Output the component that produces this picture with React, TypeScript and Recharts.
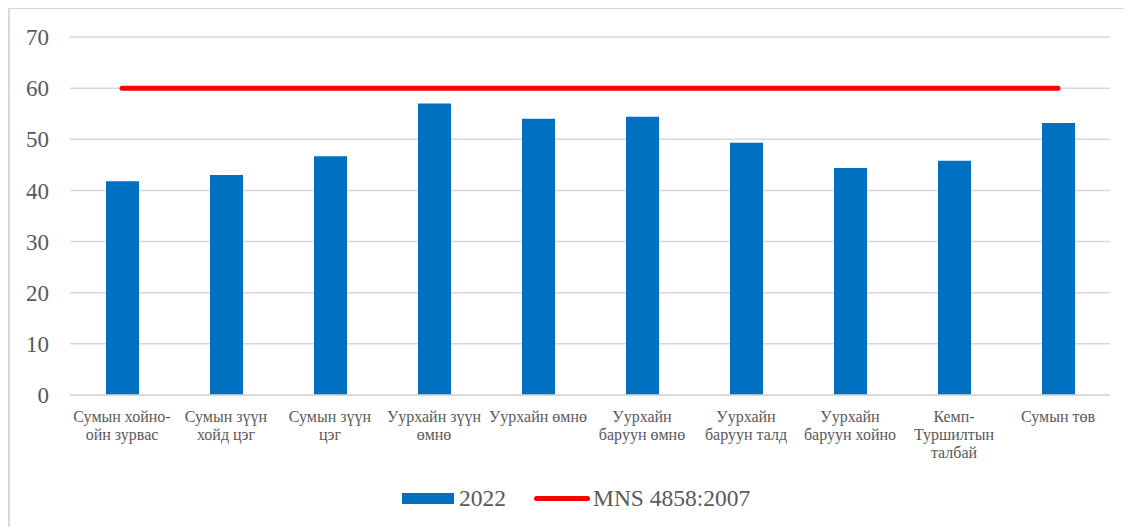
import React from "react";
import {
  ComposedChart,
  Bar,
  Line,
  XAxis,
  YAxis,
  CartesianGrid,
  Legend,
} from "recharts";

const categories = [
  "Сумын хойно-ойн зурвас",
  "Сумын зүүн хойд цэг",
  "Сумын зүүн цэг",
  "Уурхайн зүүн өмнө",
  "Уурхайн өмнө",
  "Уурхайн баруун өмнө",
  "Уурхайн баруун талд",
  "Уурхайн баруун хойно",
  "Кемп-Туршилтын талбай",
  "Сумын төв",
];

const tickLines: string[][] = [
  ["Сумын хойно-", "ойн зурвас"],
  ["Сумын зүүн", "хойд цэг"],
  ["Сумын зүүн", "цэг"],
  ["Уурхайн зүүн", "өмнө"],
  ["Уурхайн өмнө"],
  ["Уурхайн", "баруун өмнө"],
  ["Уурхайн", "баруун талд"],
  ["Уурхайн", "баруун хойно"],
  ["Кемп-", "Туршилтын", "талбай"],
  ["Сумын төв"],
];

const values2022 = [41.8, 43.0, 46.7, 57.0, 54.0, 54.4, 49.3, 44.4, 45.8, 53.2];
const mnsLimit = [60, 60, 60, 60, 60, 60, 60, 60, 60, 60];
const yTicks = [0, 10, 20, 30, 40, 50, 60, 70];

const seriesBarName = "2022";
const seriesLineName = "MNS 4858:2007";

const data = categories.map((c, i) => ({
  name: c,
  v2022: values2022[i],
  mns: mnsLimit[i],
}));

const FONT = "'Liberation Serif', 'Times New Roman', serif";
const TEXT = "#595959";
const GRID = "#d9d9d9";
const BLUE = "#0070C0";
const RED = "#FF0000";

const CatTick = (props: any) => {
  const { x, y, payload } = props;
  const lines = tickLines[payload.index] || [String(payload.value)];
  return (
    <text
      x={x}
      y={y}
      textAnchor="middle"
      fill={TEXT}
      fontSize={16}
      fontFamily={FONT}
    >
      {lines.map((l, i) => (
        <tspan key={i} x={x} dy={i === 0 ? 27 : 18}>
          {l}
        </tspan>
      ))}
    </text>
  );
};

const LegendContent = () => (
  <div
    style={{
      position: "relative",
      height: 52,
      width: 1102,
      fontFamily: FONT,
      color: TEXT,
      fontSize: 23.5,
    }}
  >
    <div
      style={{
        position: "absolute",
        left: 394,
        top: 17.5,
        width: 52,
        height: 11.5,
        background: BLUE,
      }}
    />
    <div
      style={{
        position: "absolute",
        left: 451,
        top: 10,
        lineHeight: "26px",
        whiteSpace: "nowrap",
      }}
    >
      {seriesBarName}
    </div>
    <div
      style={{
        position: "absolute",
        left: 526,
        top: 20.8,
        width: 56,
        height: 5,
        borderRadius: 2.5,
        background: RED,
      }}
    />
    <div
      style={{
        position: "absolute",
        left: 585,
        top: 10,
        lineHeight: "26px",
        whiteSpace: "nowrap",
      }}
    >
      {seriesLineName}
    </div>
  </div>
);

export default function App() {
  return (
    <div
      style={{
        position: "relative",
        width: 1124,
        height: 520,
        marginTop: -1,
        boxSizing: "border-box",
        borderTop: `2px solid ${GRID}`,
        borderLeft: `2px solid ${GRID}`,
        background: "#fff",
      }}
    >
      <div style={{ position: "absolute", left: -2, top: -2 }}>
        <ComposedChart
          width={1124}
          height={520}
          data={data}
          margin={{ top: 30, right: 22, left: 0, bottom: 0 }}
        >
          <CartesianGrid
            vertical={false}
            stroke={GRID}
            strokeWidth={1.5}
          />
          <XAxis
            dataKey="name"
            interval={0}
            height={80}
            tickLine={false}
            tickSize={0}
            tickMargin={0}
            axisLine={{ stroke: GRID, strokeWidth: 1.5 }}
            tick={<CatTick />}
          />
          <YAxis
            width={62}
            domain={[0, 70]}
            ticks={yTicks}
            axisLine={false}
            tickLine={false}
            tickSize={0}
            tickMargin={21}
            tick={{ fill: TEXT, fontSize: 23, fontFamily: FONT }}
          />
          <Legend
            verticalAlign="bottom"
            content={<LegendContent />}
          />
          <Bar
            dataKey="v2022"
            name={seriesBarName}
            fill={BLUE}
            barSize={33}
            isAnimationActive={false}
          />
          <Line
            dataKey="mns"
            name={seriesLineName}
            stroke={RED}
            strokeWidth={5}
            strokeLinecap="round"
            dot={false}
            activeDot={false}
            isAnimationActive={false}
          />
        </ComposedChart>
      </div>
    </div>
  );
}
